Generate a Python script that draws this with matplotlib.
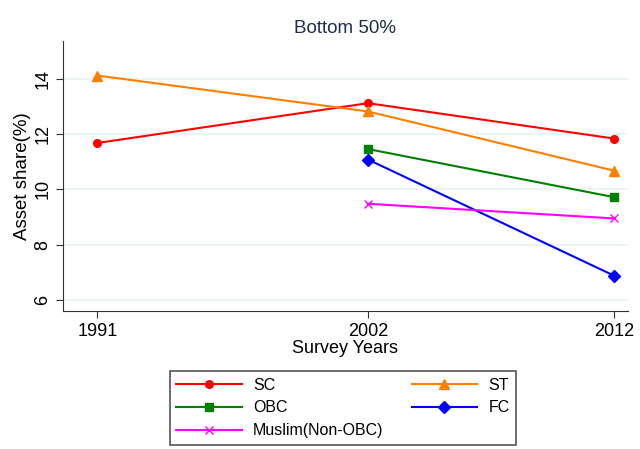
import numpy as np
from matplotlib import pyplot as plt

plt.rcParams['font.family'] = ['Liberation Sans', 'DejaVu Sans']

# data
YEARS = [1991, 2002, 2012]
SC = [11.68, 13.12, 11.84]
ST = [14.12, 12.82, 10.68]
OBC = [np.nan, 11.46, 9.72]
FC = [np.nan, 11.08, 6.88]
MUSLIM = [np.nan, 9.48, 8.95]

fig = plt.figure(figsize=(6.4, 4.49), dpi=100)
ax = fig.add_axes([63 / 640, 1 - 311 / 449, 565 / 640, 270 / 449])

lw = 1.5
h_sc, = ax.plot(YEARS, SC, '-o', color='#ff0000', lw=lw, ms=5.5, label='SC')
h_st, = ax.plot(YEARS, ST, '-^', color='#ff8000', lw=lw, ms=7.5, label='ST')
h_obc, = ax.plot(YEARS, OBC, '-s', color='#008000', lw=lw, ms=6, label='OBC')
h_fc, = ax.plot(YEARS, FC, '-D', color='#0000ff', lw=lw, ms=6.5, label='FC')
h_mu, = ax.plot(YEARS, MUSLIM, '-x', color='#ff00ff', lw=lw, ms=5.5, label='Muslim(Non-OBC)')

ax.set_xlim(1989.6, 2012.57)
ax.set_ylim(5.6, 15.37)
ax.set_xticks(YEARS)
ax.set_yticks([6, 8, 10, 12, 14])
ax.yaxis.grid(True, color='#eaf2f3', lw=1.2)
ax.set_axisbelow(True)
for lab in ax.get_yticklabels():
    lab.set_rotation(90)
    lab.set_va('center')
ax.tick_params(labelsize=13, color='#333333', length=5)
ax.spines['top'].set_visible(False)
ax.spines['right'].set_visible(False)
ax.spines['left'].set_color('#333333')
ax.spines['bottom'].set_color('#333333')

ax.set_xlabel('Survey Years', fontsize=13, labelpad=0)
ax.set_ylabel('Asset share(%)', fontsize=13.5, labelpad=2)
ax.set_title('Bottom 50%', fontsize=13.5, color='#1e2d4a', pad=6)

leg = fig.legend([h_sc, h_obc, h_mu, h_st, h_fc],
                 ['SC', 'OBC', 'Muslim(Non-OBC)', 'ST', 'FC'],
                 ncol=2, loc='center',
                 bbox_to_anchor=(343 / 640, 1 - 408 / 449),
                 fontsize=11.5, handlelength=4.1, fancybox=False,
                 edgecolor='#555555', framealpha=1, borderaxespad=0,
                 labelspacing=0.5, handletextpad=0.7, columnspacing=1.75)
leg.get_frame().set_linewidth(1.2)

plt.savefig('out.png', dpi=100)
